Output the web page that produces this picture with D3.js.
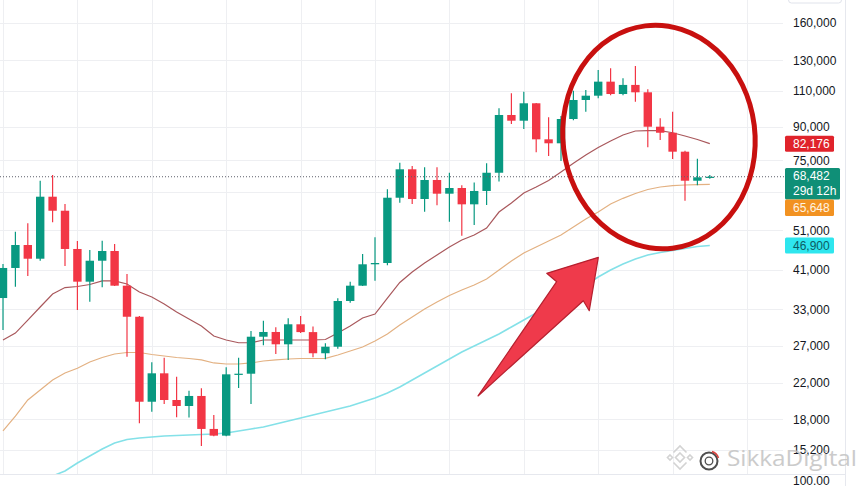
<!DOCTYPE html>
<meta charset="utf-8">
<style>
  body { margin: 0; background: #fff; }
  svg { display: block; font-family: "Liberation Sans", Arial, sans-serif; }
  .axis text { font-size: 12px; fill: #131722; }
  .axis .domain { display: none; }
  .tag text { font-size: 12px; }
</style>
<body>
<script src="https://cdnjs.cloudflare.com/ajax/libs/d3/7.8.5/d3.min.js"></script>
<script>
// monthly candles, Jul 2021 .. Apr 2026
var months = ["2021-07","2021-08","2021-09","2021-10","2021-11","2021-12",
  "2022-01","2022-02","2022-03","2022-04","2022-05","2022-06","2022-07","2022-08","2022-09","2022-10","2022-11","2022-12",
  "2023-01","2023-02","2023-03","2023-04","2023-05","2023-06","2023-07","2023-08","2023-09","2023-10","2023-11","2023-12",
  "2024-01","2024-02","2024-03","2024-04","2024-05","2024-06","2024-07","2024-08","2024-09","2024-10","2024-11","2024-12",
  "2025-01","2025-02","2025-03","2025-04","2025-05","2025-06","2025-07","2025-08","2025-09","2025-10","2025-11","2025-12",
  "2026-01","2026-02","2026-03","2026-04"];

var opens = [35110,41430,47020,43600,61350,56790,46000,38420,43120,45490,37580,31670,19830,23190,20020,19370,20470,17070,
  16450,23060,23140,28370,29120,27210,30380,29100,25900,26850,34540,37580,42280,42580,61010,71350,60580,67270,62380,64360,
  58830,63320,70010,96230,93250,102640,84160,82340,94130,104520,107030,115630,108020,113570,109040,90220,87270,78620,67000,68270];
var highs = [42340,50600,52990,67000,69140,58940,48060,45740,48150,47290,40080,31790,24640,25270,22760,21070,21360,18430,
  23970,25270,29280,30990,29880,31400,31800,30000,27360,35060,38420,44740,49060,63900,74000,72670,72150,72150,70010,65330,
  66390,73740,99840,108440,109400,102800,95020,95700,110000,110430,123300,124470,117820,126060,110830,94490,98000,79000,75630,69140];
var lows = [29440,37370,39640,43120,53290,41880,32870,34400,37250,37520,25420,17610,18770,19580,18200,18180,15540,16390,
  16390,21390,19580,27060,25790,24960,28950,25330,25050,26560,34220,37500,38630,42040,59370,58940,56480,58520,53460,49490,
  52500,58610,66680,91570,89080,78350,76770,74680,93500,98000,105480,107300,107300,103540,80540,83850,75510,60020,65330,67750];
var closes = [41430,47020,43600,61350,56790,46000,38420,43120,45490,37580,31670,19830,23190,20020,19370,20470,17070,16450,
  23060,23140,28370,29120,27210,30380,29100,25900,26850,34540,37580,42280,42580,61010,71350,60580,67270,62380,64360,58830,
  63320,70010,96230,93250,102640,84160,82340,94130,104520,107030,115630,108020,113570,109040,90220,87270,78620,67000,68270,68482];

// moving average lines
var maRed = [27860,28950,31100,33420,35900,37200,37410,37830,38570,38570,37940,36290,35310,33970,32510,31280,30100,28480,
  27860,27440,27440,27860,27860,27860,27860,27860,27940,28950,30100,31450,32150,35110,38250,40520,42580,44500,46510,48330,
  49690,51630,56390,59260,62620,64720,67080,70290,73740,77190,80440,83390,86180,88110,88250,88250,87270,85700,84080,82176];
var maOrange = [16880,18330,20020,21150,22350,23230,23840,24680,25300,25790,26010,26010,25720,25510,25300,25160,24960,24550,
  24410,24410,24550,24820,24960,25090,25160,25160,25180,25650,26220,26810,27710,28800,30260,31620,33050,34350,35600,36700,
  37720,38990,40970,43060,44990,46510,48060,49690,51920,54260,56390,58940,60810,62450,63840,64720,65180,65440,65560,65648];
var maCyan = [null,null,null,null,13170,13540,14150,14710,15280,15800,16110,16240,16330,16420,16460,16510,16560,16600,
  16690,16880,17070,17260,17540,17830,18130,18430,18740,19050,19370,19800,20240,20810,21510,22350,23230,24150,25090,26080,
  26950,27860,28800,29930,31100,32330,33600,34930,36090,37720,39420,40970,42340,43530,44500,45110,45620,46120,46640,46900];

// price axis ticks (63,000 only has a grid line, its label sits under the price tag)
var tickValues = [160000,130000,110000,90000,75000,63000,51000,41000,33000,27000,22000,18000,15200];
var hiddenTicks = [63000];

// annotation: arrow outline as [candle index, price]
var arrowPoints = [[38.31,20470],[44.65,38420],[43.85,40230],[48.01,43930],[47.28,32740],[46.80,34590]];
var circleCenter = [52.9,85230];

var width = 865, height = 486,
    plotRight = 783, plotBottom = 474;

var green = "#089981", red = "#f23645";

var svg = d3.select("body").append("svg")
    .attr("width", width)
    .attr("height", height);

var x = d3.scaleLinear().domain([0, 57]).range([3, 709.8]);
var y = d3.scaleLog().domain([160000, 15200]).range([22.7, 450]);

svg.append("clipPath").attr("id", "plot")
  .append("rect").attr("x", 0).attr("y", 0).attr("width", plotRight).attr("height", plotBottom);

// grid
var grid = svg.append("g").attr("class", "grid");
grid.selectAll(".h").data(tickValues).enter().append("line")
    .attr("x1", 0).attr("x2", plotRight)
    .attr("y1", function(d) { return Math.round(y(d)) + 0.5; })
    .attr("y2", function(d) { return Math.round(y(d)) + 0.5; })
    .style("stroke", "#eeeff2");
grid.selectAll(".v").data(d3.range(0, 61, 6)).enter().append("line")
    .attr("x1", function(d) { return Math.round(x(d)) + 0.5; })
    .attr("x2", function(d) { return Math.round(x(d)) + 0.5; })
    .attr("y1", 0).attr("y2", plotBottom)
    .style("stroke", "#eeeff2");

var plot = svg.append("g").attr("clip-path", "url(#plot)");

// moving averages
function maLine(values) {
  return d3.line()
    .defined(function(d) { return d != null; })
    .x(function(d, i) { return x(i); })
    .y(function(d) { return y(d); })(values);
}
plot.append("path").attr("d", maLine(maCyan))
    .style("fill", "none").style("stroke", "#84e1e8").style("stroke-width", 1.6);
plot.append("path").attr("d", maLine(maOrange))
    .style("fill", "none").style("stroke", "#e3b182").style("stroke-width", 1.2);
plot.append("path").attr("d", maLine(maRed))
    .style("fill", "none").style("stroke", "#a9585c").style("stroke-width", 1.2);

// candles
var candles = plot.selectAll(".candle").data(months).enter().append("g")
    .attr("class", "candle")
    .style("fill", function(d, i) { return closes[i] >= opens[i] ? green : red; })
    .style("stroke", function(d, i) { return closes[i] >= opens[i] ? green : red; });

candles.append("line")
    .attr("x1", function(d, i) { return x(i); })
    .attr("x2", function(d, i) { return x(i); })
    .attr("y1", function(d, i) { return y(highs[i]); })
    .attr("y2", function(d, i) { return y(lows[i]); })
    .style("stroke-width", 1.2);

candles.append("rect")
    .attr("x", function(d, i) { return x(i) - 4.2; })
    .attr("width", 8.4)
    .attr("y", function(d, i) { return y(Math.max(opens[i], closes[i])); })
    .attr("height", function(d, i) {
      return Math.max(1.2, y(Math.min(opens[i], closes[i])) - y(Math.max(opens[i], closes[i])));
    })
    .style("stroke", "none");

// current price dotted line
var last = closes[closes.length - 1];
svg.append("line")
    .attr("x1", 0).attr("x2", 785)
    .attr("y1", y(last)).attr("y2", y(last))
    .style("stroke", "#5d606b").style("stroke-dasharray", "1,2").style("stroke-width", 1);

// price axis
var fmt = d3.format(",");
svg.append("g")
    .attr("class", "axis")
    .attr("transform", "translate(785,0)")
    .call(d3.axisRight(y).tickValues(tickValues).tickSize(0).tickPadding(8)
      .tickFormat(function(d) { return hiddenTicks.indexOf(d) >= 0 ? "" : fmt(d); }));

svg.append("line").attr("x1", 845.5).attr("x2", 845.5).attr("y1", 0).attr("y2", height)
    .style("stroke", "#e6e8ee");
svg.append("line").attr("x1", 0).attr("x2", 845).attr("y1", plotBottom + 0.5).attr("y2", plotBottom + 0.5)
    .style("stroke", "#e6e8ee");
svg.append("rect").attr("x", 788.5).attr("y", -6).attr("width", 53).attr("height", 9).attr("rx", 3)
    .style("fill", "#fff").style("stroke", "#e0e3eb");
svg.append("text").attr("x", 793).attr("y", 484.5)
    .style("font-size", "12px").style("fill", "#131722").text("100.00");

// value tags on the price scale
function tag(top, h, w, fill, color, lines) {
  var g = svg.append("g").attr("class", "tag");
  g.append("rect").attr("x", 785).attr("y", top).attr("width", w).attr("height", h).attr("rx", 1.5)
    .style("fill", fill);
  lines.forEach(function(t, k) {
    g.append("text").attr("x", 793).attr("y", top + 12.2 + k * 14.5).style("fill", color).text(t);
  });
  return top + h;
}
var lastRed = maRed[maRed.length - 1],
    lastOrange = maOrange[maOrange.length - 1],
    lastCyan = maCyan[maCyan.length - 1];

tag(y(lastRed) - 8, 16, 49, "#e0232b", "#fff", [fmt(lastRed)]);
tag(y(lastCyan) - 8, 16, 49, "#2ee6ee", "#0c5b62", [fmt(lastCyan)]);
var priceTop = y(last) - 8.7;
var priceBottom = tag(priceTop, 31.5, 55, "#0f8f77", "#fff", [fmt(last), "29d 12h"]);
tag(Math.max(y(lastOrange) - 8, priceBottom), 16.5, 49, "#f29221", "#fff4e2", [fmt(lastOrange)]);

// red ellipse around the top
var cx = x(circleCenter[0]), cy = y(circleCenter[1]);
svg.append("ellipse")
    .attr("cx", cx).attr("cy", cy).attr("rx", 96).attr("ry", 112)
    .attr("transform", "rotate(-7," + cx + "," + cy + ")")
    .style("fill", "none").style("stroke", "#c8100f").style("stroke-width", 5);

// red arrow
svg.append("path")
    .attr("d", d3.line().curve(d3.curveLinearClosed)
      .x(function(d) { return x(d[0]); })
      .y(function(d) { return y(d[1]); })(arrowPoints))
    .style("fill", "#ef3a4b").style("stroke", "#b61f2e").style("stroke-width", 1.2)
    .style("stroke-linejoin", "round");

// watermark
var wm = svg.append("g").style("opacity", 0.9);
var logo = wm.append("g").style("fill", "none").style("stroke", "#cfcfcf").style("stroke-width", 1.6);
logo.append("path").attr("d", "M680,453L684.5,457.5L680,462L675.5,457.5Z");
logo.append("path").attr("d", "M670,455L672.5,457.5L670,460L667.5,457.5Z");
logo.append("path").attr("d", "M690,455L692.5,457.5L690,460L687.5,457.5Z");
logo.append("path").attr("d", "M673.5,452.5L680,446L686.5,452.5");
logo.append("path").attr("d", "M673.5,462.5L680,469L686.5,462.5");
wm.append("circle").attr("cx", 709).attr("cy", 461).attr("r", 8.5)
    .style("fill", "#fff").style("stroke", "#3d3d3d").style("stroke-width", 2);
wm.append("circle").attr("cx", 709).attr("cy", 461).attr("r", 3.8)
    .style("fill", "none").style("stroke", "#3d3d3d").style("stroke-width", 1.3);
wm.append("path").attr("d", "M712,451.5A10,10 0 0 1 718.5,458")
    .style("fill", "none").style("stroke", "#d9302c").style("stroke-width", 1.5);
wm.append("text").attr("x", 727).attr("y", 466)
    .attr("textLength", 130).attr("lengthAdjust", "spacingAndGlyphs")
    .style("font-family", "'Open Sans', sans-serif").style("font-size", "21px").style("fill", "#c6c6c6")
    .text("SikkaDigital");
</script>
</body>
